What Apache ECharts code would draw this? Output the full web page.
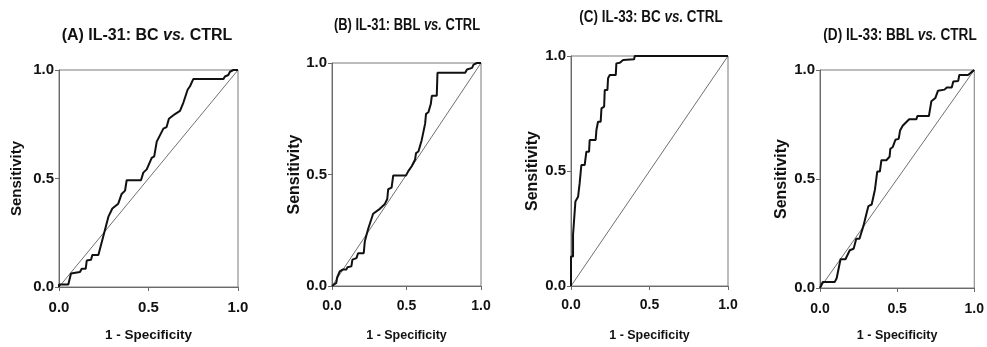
<!DOCTYPE html>
<html>
<head>
<meta charset="utf-8">
<script src="https://cdn.jsdelivr.net/npm/echarts@6/dist/echarts.min.js"></script>
<style>html,body{margin:0;padding:0;background:#fff;}#c{width:987px;height:347px;}</style>
</head>
<body>
<div id="c"></div>
<script>
// ---- data ----
var titlesA = ['(A) IL-31: BC ', 'vs.', ' CTRL'];
var titlesB = ['(B) IL-31: BBL ', 'vs.', ' CTRL'];
var titlesC = ['(C) IL-33: BC ', 'vs.', ' CTRL'];
var titlesD = ['(D) IL-33: BBL ', 'vs.', ' CTRL'];
var xAxisName = '1 - Specificity';
var yAxisName = 'Sensitivity';
var tickValues = [0, 0.5, 1];

var fprA = [0, 0, 0.052, 0.067, 0.117, 0.127, 0.149, 0.155, 0.179, 0.186, 0.22, 0.257, 0.276, 0.298, 0.331, 0.35, 0.369, 0.378, 0.458, 0.471, 0.49, 0.518, 0.532, 0.546, 0.583, 0.601, 0.614, 0.648, 0.676, 0.695, 0.704, 0.719, 0.732, 0.75, 0.918, 0.927, 0.946, 0.955, 0.974, 1];
var tprA = [0, 0.012, 0.012, 0.062, 0.069, 0.084, 0.084, 0.122, 0.126, 0.147, 0.147, 0.264, 0.324, 0.362, 0.384, 0.429, 0.444, 0.492, 0.492, 0.527, 0.542, 0.595, 0.602, 0.67, 0.73, 0.737, 0.775, 0.797, 0.812, 0.85, 0.857, 0.91, 0.925, 0.958, 0.958, 0.97, 0.977, 0.992, 1, 1];

var fprB = [0, 0, 0.029, 0.034, 0.052, 0.074, 0.097, 0.103, 0.13, 0.137, 0.164, 0.175, 0.213, 0.22, 0.231, 0.243, 0.276, 0.321, 0.355, 0.371, 0.377, 0.4, 0.411, 0.497, 0.512, 0.535, 0.557, 0.564, 0.58, 0.602, 0.625, 0.631, 0.647, 0.663, 0.67, 0.703, 0.708, 0.894, 0.906, 0.94, 0.95, 0.973, 1];
var tprB = [0, 0.007, 0.014, 0.037, 0.066, 0.074, 0.074, 0.084, 0.088, 0.118, 0.125, 0.147, 0.147, 0.199, 0.228, 0.257, 0.324, 0.346, 0.368, 0.39, 0.434, 0.441, 0.496, 0.496, 0.515, 0.537, 0.566, 0.596, 0.603, 0.654, 0.728, 0.772, 0.779, 0.816, 0.853, 0.853, 0.956, 0.956, 0.971, 0.978, 0.993, 1, 1];

var fprC = [0, 0, 0.013, 0.013, 0.023, 0.028, 0.04, 0.045, 0.055, 0.066, 0.087, 0.098, 0.115, 0.119, 0.157, 0.162, 0.172, 0.189, 0.194, 0.211, 0.215, 0.232, 0.236, 0.247, 0.285, 0.289, 0.311, 0.332, 0.402, 0.406, 1];
var tprC = [0, 0.128, 0.128, 0.223, 0.223, 0.367, 0.374, 0.388, 0.446, 0.526, 0.526, 0.584, 0.584, 0.635, 0.635, 0.678, 0.714, 0.714, 0.772, 0.78, 0.852, 0.852, 0.903, 0.917, 0.917, 0.968, 0.971, 0.983, 0.986, 1, 1];

var fprD = [0, 0, 0.017, 0.095, 0.108, 0.133, 0.165, 0.193, 0.218, 0.235, 0.256, 0.282, 0.303, 0.314, 0.335, 0.345, 0.356, 0.371, 0.388, 0.398, 0.43, 0.451, 0.456, 0.472, 0.489, 0.51, 0.519, 0.536, 0.578, 0.625, 0.631, 0.706, 0.722, 0.748, 0.765, 0.807, 0.822, 0.854, 0.864, 0.896, 0.903, 0.96, 0.98, 1];
var tprD = [0, 0.008, 0.027, 0.027, 0.045, 0.132, 0.132, 0.173, 0.18, 0.226, 0.226, 0.286, 0.346, 0.376, 0.383, 0.391, 0.451, 0.534, 0.534, 0.586, 0.586, 0.602, 0.639, 0.647, 0.68, 0.684, 0.722, 0.744, 0.774, 0.774, 0.789, 0.789, 0.857, 0.872, 0.905, 0.91, 0.92, 0.92, 0.947, 0.95, 0.977, 0.977, 0.989, 1];

var refX = [0, 1];
var refY = [0, 1];

// ---- layout ----
var FONT = '"Liberation Sans", Arial, sans-serif';
var panels = [
  {fpr: fprA, tpr: tprA, title: titlesA, grid: {left: 59, top: 70, width: 179, height: 222}, tx: 147, ty: 36, tScale: 1.0,
   xtSize: 15, xnSize: 13.5, ynSize: 15, xMargin: 13, xGap: 41, yGap: 35},
  {fpr: fprB, tpr: tprB, title: titlesB, grid: {left: 332, top: 63, width: 149, height: 227}, tx: 407, ty: 26, tScale: 0.81,
   xtSize: 14, xnSize: 12.5, ynSize: 16, xMargin: 13, xGap: 43, yGap: 29},
  {fpr: fprC, tpr: tprC, title: titlesC, grid: {left: 571, top: 56, width: 157, height: 231}, tx: 651, ty: 18, tScale: 0.84,
   xtSize: 14, xnSize: 12.5, ynSize: 16, xMargin: 12, xGap: 43, yGap: 30},
  {fpr: fprD, tpr: tprD, title: titlesD, grid: {left: 820, top: 70, width: 158, height: 222}, tx: 900, ty: 36, tScale: 0.85,
   xtSize: 14, xnSize: 12.5, ynSize: 16, xMargin: 14, xGap: 41, yGap: 30}
];

var grids = [], xAxes = [], yAxes = [], series = [], graphics = [];
function pair(xs, ys) { return xs.map(function (x, i) { return [x, ys[i]]; }); }
function fmt(v) { return v.toFixed(1); }

panels.forEach(function (p, i) {
  grids.push(Object.assign({show: true, borderColor: '#7a7a7a', borderWidth: 1, backgroundColor: 'transparent', containLabel: false}, p.grid));
  var common = {
    type: 'value', gridIndex: i, min: 0, max: 1, interval: 0.5,
    axisLine: {show: true, onZero: false, lineStyle: {color: '#6a6a6a', width: 1}},
    axisTick: {show: true, length: 4, lineStyle: {color: '#6a6a6a'}},
    splitLine: {show: false},
    nameLocation: 'middle'
  };
  xAxes.push(Object.assign({}, common, {
    name: xAxisName, nameGap: p.xGap,
    nameTextStyle: {fontFamily: FONT, fontWeight: 'bold', fontSize: p.xnSize, color: '#111'},
    axisLabel: {formatter: fmt, fontFamily: FONT, fontWeight: 'bold', fontSize: p.xtSize, color: '#111', margin: p.xMargin}
  }));
  yAxes.push(Object.assign({}, common, {
    name: yAxisName, nameGap: p.yGap,
    nameTextStyle: {fontFamily: FONT, fontWeight: 'bold', fontSize: p.ynSize, color: '#111'},
    axisLabel: {formatter: fmt, fontFamily: FONT, fontWeight: 'bold', fontSize: 15, color: '#111', margin: 5}
  }));
  series.push({type: 'line', xAxisIndex: i, yAxisIndex: i, data: pair(refX, refY), showSymbol: false, silent: true,
    lineStyle: {color: '#707070', width: 1}});
  series.push({type: 'line', xAxisIndex: i, yAxisIndex: i, data: pair(p.fpr, p.tpr), showSymbol: false, silent: true, clip: false,
    lineStyle: {color: '#111', width: 2}});
  graphics.push({type: 'text', x: p.tx, y: p.ty, scaleX: p.tScale, style: {
    text: '{b|' + p.title[0] + '}{i|' + p.title[1] + '}{b|' + p.title[2] + '}',
    align: 'center', verticalAlign: 'middle',
    rich: {
      b: {fontFamily: FONT, fontWeight: 'bold', fontSize: 16, fill: '#111', color: '#111'},
      i: {fontFamily: FONT, fontWeight: 'bold', fontStyle: 'italic', fontSize: 16, fill: '#111', color: '#111'}
    }
  }});
});

var chart = echarts.init(document.getElementById('c'));
chart.setOption({
  animation: false,
  backgroundColor: '#fff',
  grid: grids, xAxis: xAxes, yAxis: yAxes, series: series, graphic: graphics
});
</script>
</body>
</html>
